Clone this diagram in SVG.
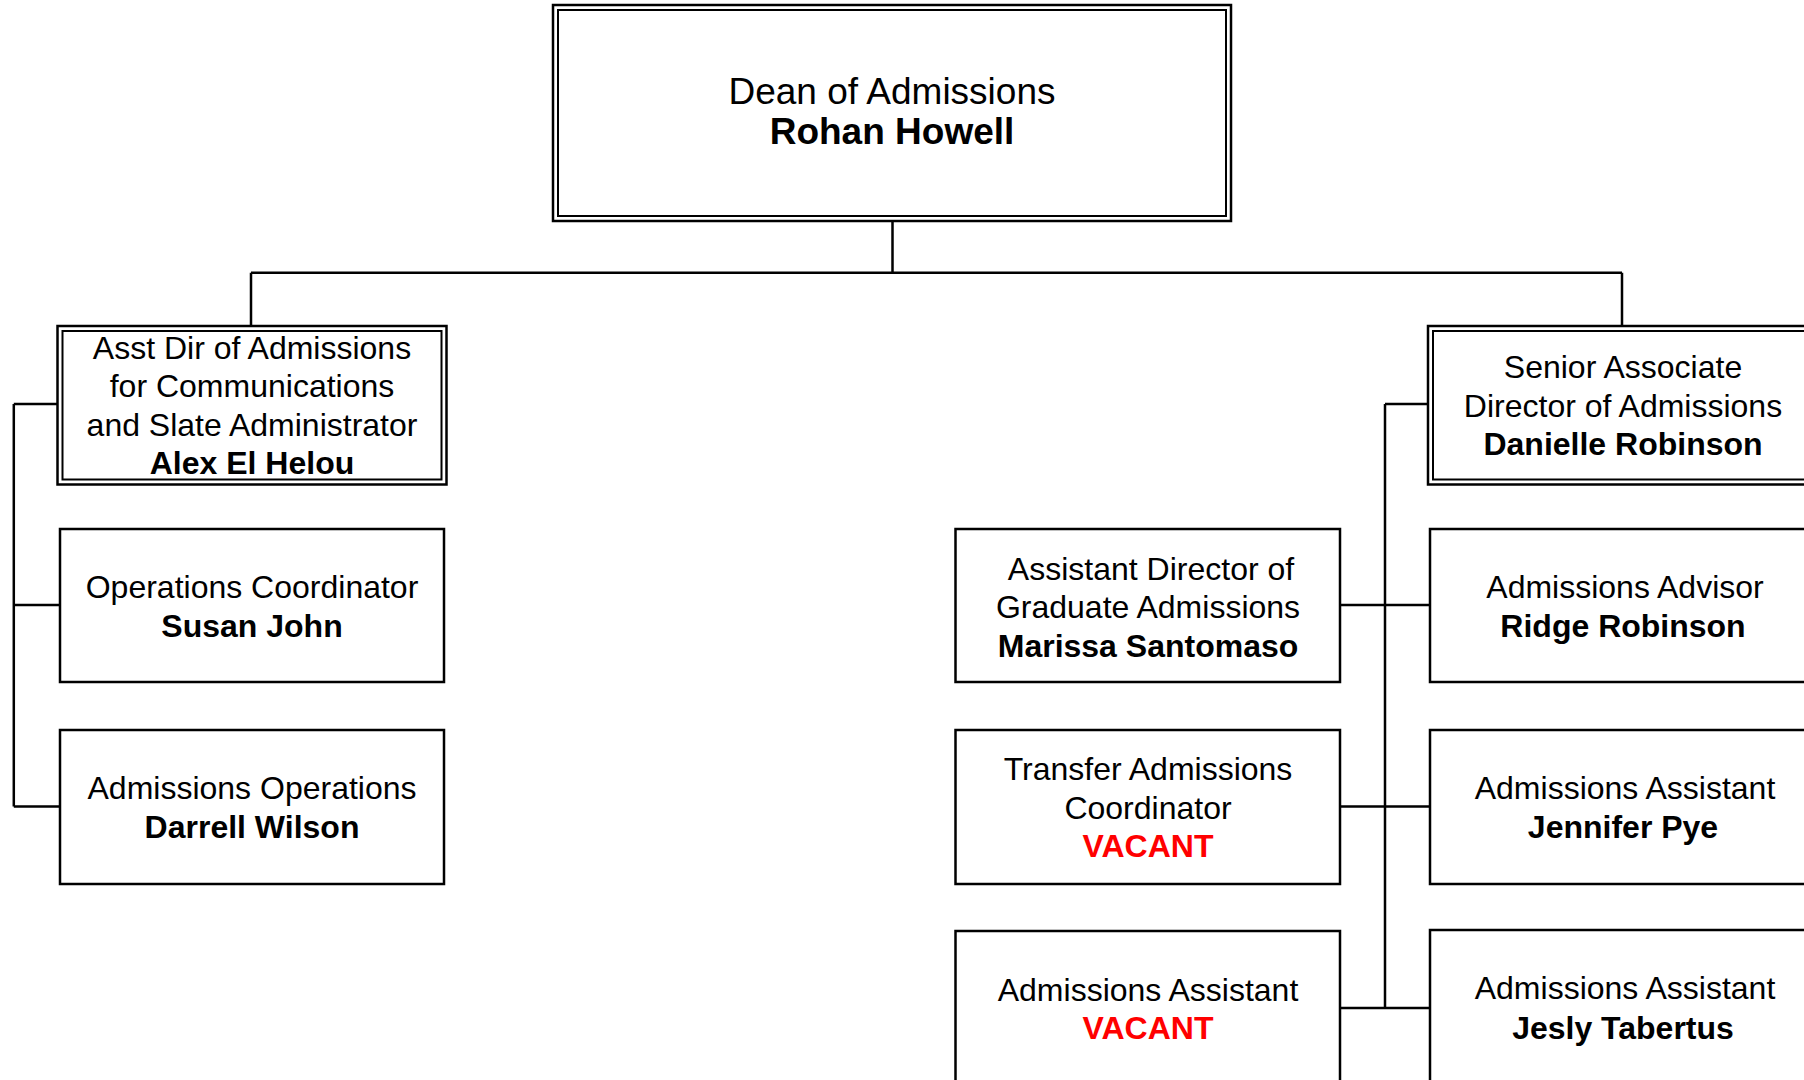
<svg xmlns="http://www.w3.org/2000/svg" width="1804" height="1080" viewBox="0 0 1804 1080">
<style>
.bx{fill:#fff;stroke:#000;stroke-width:2.5}
.in{fill:none;stroke:#000;stroke-width:2}
.t{font-family:"Liberation Sans",Arial,sans-serif;font-size:32px;text-anchor:middle;fill:#000}
.b{font-weight:bold}
.v{fill:#ff0000;font-weight:bold}
.d{font-size:37px}
.c{fill:none;stroke:#000;stroke-width:2.5}
</style>
<rect width="1804" height="1080" fill="#fff"/>
<g id="connectors">
<path class="c" d="M892.5 221V272.7M251 272.7H1622M251 272.7V326M1622 272.7V326"/>
<path class="c" d="M13.8 404V806.5M13.8 404H58M13.8 605H60M13.8 806.5H60"/>
<path class="c" d="M1385 404V1008M1385 404H1428M1340 605H1430M1340 806.5H1432M1340 1008H1432"/>
</g>
<g id="dean">
<rect class="bx" x="553" y="5" width="678" height="216"/>
<rect class="in" x="558" y="10" width="668" height="206"/>
<text class="t d" x="892" y="104">Dean of Admissions</text>
<text class="t d b" x="892" y="144">Rohan Howell</text>
</g>
<g id="asst-dir">
<rect class="bx" x="57.5" y="326" width="389" height="158.5"/>
<rect class="in" x="62.5" y="331" width="379" height="148.5"/>
<text class="t" x="252" y="359">Asst Dir of Admissions</text>
<text class="t" x="252" y="397">for Communications</text>
<text class="t" x="252" y="436">and Slate Administrator</text>
<text class="t b" x="252" y="474">Alex El Helou</text>
</g>
<g id="ops-coord">
<rect class="bx" x="60" y="529" width="384" height="153"/>
<text class="t" x="252" y="598">Operations Coordinator</text>
<text class="t b" x="252" y="637">Susan John</text>
</g>
<g id="adm-ops">
<rect class="bx" x="60" y="730" width="384" height="154"/>
<text class="t" x="252" y="799">Admissions Operations</text>
<text class="t b" x="252" y="838">Darrell Wilson</text>
</g>
<g id="senior-assoc">
<rect class="bx" x="1428" y="326" width="400" height="158.5"/>
<rect class="in" x="1433" y="331" width="390" height="148.5"/>
<text class="t" x="1623" y="378">Senior Associate</text>
<text class="t" x="1623" y="417">Director of Admissions</text>
<text class="t b" x="1623" y="455">Danielle Robinson</text>
</g>
<g id="advisor">
<rect class="bx" x="1430" y="529" width="400" height="153"/>
<text class="t" x="1625" y="598">Admissions Advisor</text>
<text class="t b" x="1623" y="637">Ridge Robinson</text>
</g>
<g id="assistant-pye">
<rect class="bx" x="1430" y="730" width="400" height="154"/>
<text class="t" x="1625" y="799">Admissions Assistant</text>
<text class="t b" x="1623" y="838">Jennifer Pye</text>
</g>
<g id="assistant-tabertus">
<rect class="bx" x="1430" y="930" width="400" height="154"/>
<text class="t" x="1625" y="999">Admissions Assistant</text>
<text class="t b" x="1623" y="1039">Jesly Tabertus</text>
</g>
<g id="grad-asst-dir">
<rect class="bx" x="955.5" y="529" width="384.5" height="153"/>
<text class="t" x="1151" y="580">Assistant Director of</text>
<text class="t" x="1148" y="618">Graduate Admissions</text>
<text class="t b" x="1148" y="657">Marissa Santomaso</text>
</g>
<g id="transfer">
<rect class="bx" x="955.5" y="730" width="384.5" height="154"/>
<text class="t" x="1148" y="780">Transfer Admissions</text>
<text class="t" x="1148" y="819">Coordinator</text>
<text class="t v" x="1148" y="857">VACANT</text>
</g>
<g id="assistant-vacant">
<rect class="bx" x="955.5" y="931" width="384.5" height="154"/>
<text class="t" x="1148" y="1001">Admissions Assistant</text>
<text class="t v" x="1148" y="1039">VACANT</text>
</g>
</svg>
